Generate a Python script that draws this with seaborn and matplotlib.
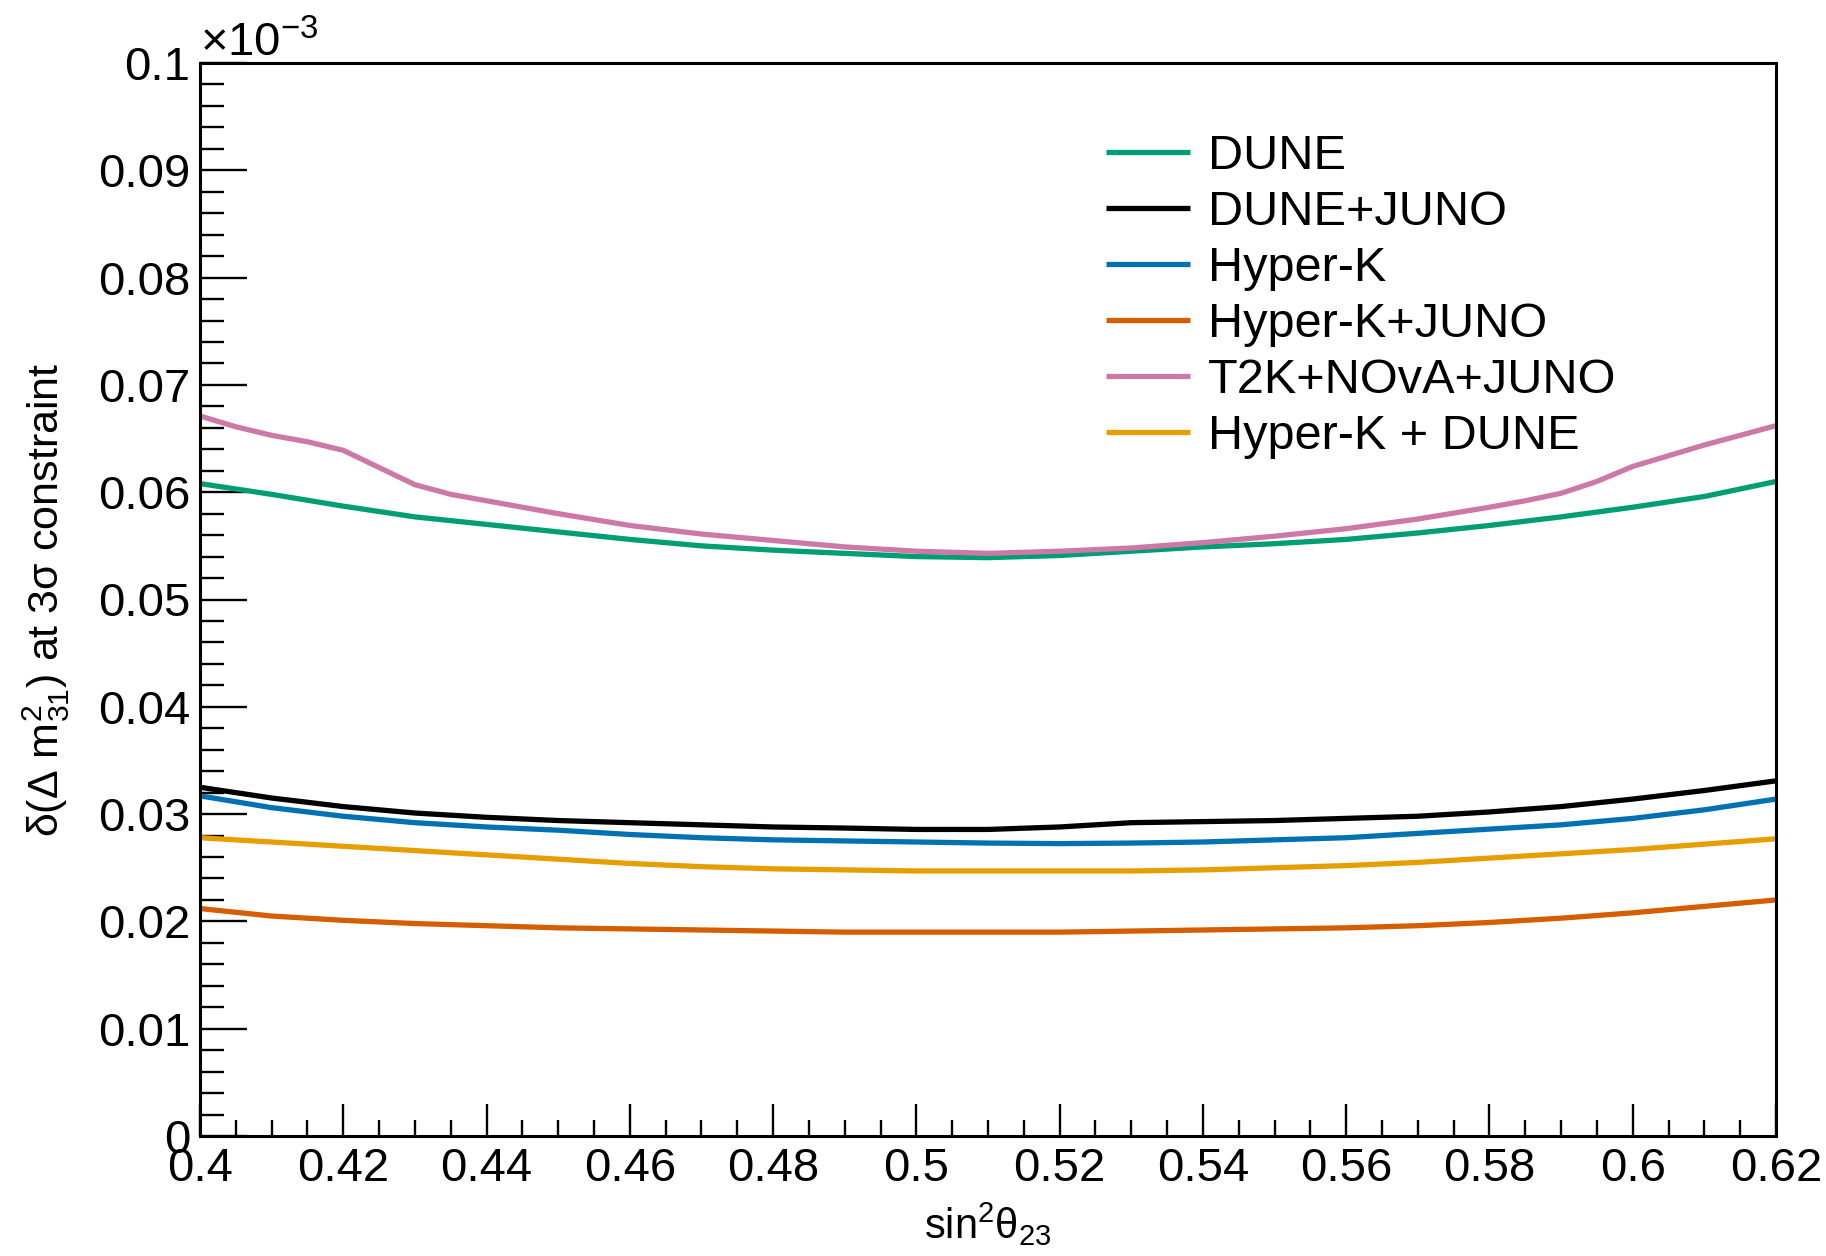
import numpy as np
import pandas as pd
import matplotlib
matplotlib.use("Agg")
import matplotlib.pyplot as plt
import seaborn as sns
from matplotlib.ticker import MultipleLocator, FixedLocator

# ---------------- data (values in units of 1e-3) ----------------
x_main = [0.40, 0.41, 0.42, 0.43, 0.44, 0.45, 0.46, 0.47, 0.48, 0.49, 0.50,
          0.51, 0.52, 0.53, 0.54, 0.55, 0.56, 0.57, 0.58, 0.59, 0.60, 0.61, 0.62]

dune = [0.0608, 0.0598, 0.0587, 0.0577, 0.0570, 0.0563, 0.0556, 0.0550, 0.0546, 0.0543, 0.0540,
        0.0539, 0.0541, 0.0545, 0.0549, 0.0552, 0.0556, 0.0562, 0.0569, 0.0577, 0.0586, 0.0596, 0.0610]

dune_juno = [0.0325, 0.0315, 0.0307, 0.0301, 0.0297, 0.0294, 0.0292, 0.0290, 0.0288, 0.0287, 0.02857,
             0.02857, 0.0288, 0.0292, 0.0293, 0.0294, 0.0296, 0.0298, 0.0302, 0.0307, 0.0314, 0.0322, 0.0331]

hyperk = [0.0317, 0.0306, 0.0298, 0.0292, 0.0288, 0.0285, 0.0281, 0.0278, 0.0276, 0.0275, 0.0274,
          0.0273, 0.02725, 0.0273, 0.0274, 0.0276, 0.0278, 0.0282, 0.0286, 0.0290, 0.0296, 0.0304, 0.0314]

hyperk_juno = [0.0212, 0.0205, 0.0201, 0.0198, 0.0196, 0.0194, 0.0193, 0.0192, 0.0191, 0.0190, 0.0190,
               0.0190, 0.0190, 0.0191, 0.0192, 0.0193, 0.0194, 0.0196, 0.0199, 0.0203, 0.0208, 0.0214, 0.0220]

x_t2k = [0.40, 0.405, 0.41, 0.415, 0.42, 0.425, 0.43, 0.435, 0.44, 0.45, 0.46, 0.47, 0.48, 0.49, 0.50,
         0.51, 0.52, 0.53, 0.54, 0.55, 0.56, 0.57, 0.58, 0.585, 0.59, 0.595, 0.60, 0.605, 0.61, 0.615, 0.62]
t2k_nova_juno = [0.0671, 0.0661, 0.0653, 0.0647, 0.0639, 0.0623, 0.0607, 0.0598, 0.0592, 0.0580, 0.0569,
                 0.0561, 0.0555, 0.0549, 0.0545, 0.0543, 0.0545, 0.0548, 0.0553, 0.0559, 0.0566, 0.0575,
                 0.0586, 0.0592, 0.0599, 0.0610, 0.0624, 0.0634, 0.0644, 0.0653, 0.0662]

hyperk_dune = [0.0278, 0.0274, 0.0270, 0.0266, 0.0262, 0.0258, 0.0254, 0.0251, 0.0249, 0.0248, 0.0247,
               0.0247, 0.0247, 0.0247, 0.0248, 0.0250, 0.0252, 0.0255, 0.0259, 0.0263, 0.0267, 0.0272, 0.0277]

series_names = ["DUNE", "DUNE+JUNO", "Hyper-K", "Hyper-K+JUNO", "T2K+NOvA+JUNO", "Hyper-K + DUNE"]
series_colors = ["#009E73", "#000000", "#0072B2", "#D55E00", "#CC79A7", "#E69F00"]

y_tick_values = [0, 0.01, 0.02, 0.03, 0.04, 0.05, 0.06, 0.07, 0.08, 0.09, 0.1]
y_tick_labels = ["0", "0.01", "0.02", "0.03", "0.04", "0.05", "0.06", "0.07", "0.08", "0.09", "0.1"]
x_tick_values = [0.40, 0.42, 0.44, 0.46, 0.48, 0.50, 0.52, 0.54, 0.56, 0.58, 0.60, 0.62]
x_tick_labels = ["0.4", "0.42", "0.44", "0.46", "0.48", "0.5", "0.52", "0.54", "0.56", "0.58", "0.6", "0.62"]

# ---------------- build long table ----------------
frames = []
for name, xs, ys in [
    ("DUNE", x_main, dune),
    ("DUNE+JUNO", x_main, dune_juno),
    ("Hyper-K", x_main, hyperk),
    ("Hyper-K+JUNO", x_main, hyperk_juno),
    ("T2K+NOvA+JUNO", x_t2k, t2k_nova_juno),
    ("Hyper-K + DUNE", x_main, hyperk_dune),
]:
    frames.append(pd.DataFrame({"x": xs, "y": ys, "series": name}))
df = pd.concat(frames, ignore_index=True)

# ---------------- style ----------------
sns.set_style("white")
FONT = "Liberation Sans"
plt.rcParams["font.family"] = [FONT, "DejaVu Sans"]
plt.rcParams["mathtext.fontset"] = "custom"
plt.rcParams["mathtext.rm"] = FONT
plt.rcParams["mathtext.it"] = FONT
plt.rcParams["mathtext.bf"] = FONT + ":bold"
plt.rcParams["text.color"] = "black"
plt.rcParams["axes.labelcolor"] = "black"
plt.rcParams["xtick.color"] = "black"
plt.rcParams["ytick.color"] = "black"

W, H = 1826, 1256
DPI = 100
fig = plt.figure(figsize=(W / DPI, H / DPI), dpi=DPI)
L, R, T, B = 200, 1776, 63, 1136
ax = fig.add_axes([L / W, 1 - B / H, (R - L) / W, (B - T) / H])

sns.lineplot(data=df, x="x", y="y", hue="series", hue_order=series_names,
             palette=series_colors, estimator=None, sort=True, linewidth=3.8,
             legend=False, ax=ax)
for ln in ax.get_lines():
    ln.set_solid_joinstyle("round")
    ln.set_solid_capstyle("butt")

ax.set_xlim(0.40, 0.62)
ax.set_ylim(0, 0.1)

for s in ax.spines.values():
    s.set_linewidth(2.2)
    s.set_color("black")

ax.yaxis.set_major_locator(FixedLocator(y_tick_values))
ax.set_yticklabels(y_tick_labels)
ax.yaxis.set_minor_locator(MultipleLocator(0.002))
ax.xaxis.set_major_locator(FixedLocator(x_tick_values))
ax.set_xticklabels(x_tick_labels)
ax.xaxis.set_minor_locator(MultipleLocator(0.005))

ax.tick_params(axis="y", which="major", direction="in", length=34, width=1.7,
               labelsize=34, pad=7, left=True, right=False)
ax.tick_params(axis="y", which="minor", direction="in", length=17, width=1.7,
               left=True, right=False)
ax.tick_params(axis="x", which="major", direction="in", length=23, width=1.7,
               labelsize=34, pad=8, bottom=True, top=False)
ax.tick_params(axis="x", which="minor", direction="in", length=11.5, width=1.7,
               bottom=True, top=False)

ax.set_xlabel(r"sin$^{2}$θ$_{23}$", fontsize=30)
ax.set_ylabel(r"δ(Δ m$^{2}_{31}$) at 3σ constraint", fontsize=31)
ax.xaxis.set_label_coords(0.5, -0.06)
ax.yaxis.set_label_coords(-0.081, 0.5)

ax.text(0.0, 0.997, r"$\times$10$^{-3}$", transform=ax.transAxes, ha="left",
        va="bottom", fontsize=34)

handles = ax.get_lines()[:len(series_names)]
leg = ax.legend(handles, series_names, loc="upper left", frameon=False,
                fontsize=35, handlelength=1.72, handletextpad=0.38,
                labelspacing=0.225, borderpad=0, borderaxespad=0,
                bbox_to_anchor=(1106 / W, 1 - 134 / H),
                bbox_transform=fig.transFigure)

fig.savefig("out.png", dpi=DPI)
